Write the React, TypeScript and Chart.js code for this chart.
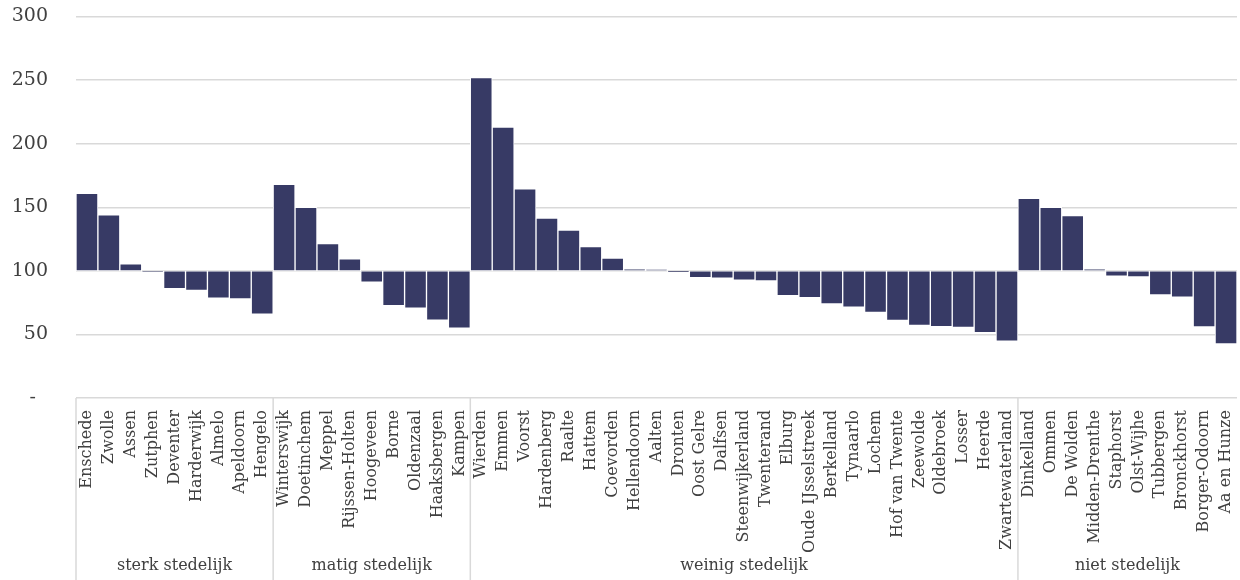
import React, { useEffect, useRef } from "react";
import { Chart, registerables } from "chart.js";

Chart.register(...registerables);

const categories: string[] = [
  "Enschede", "Zwolle", "Assen", "Zutphen", "Deventer", "Harderwijk", "Almelo", "Apeldoorn", "Hengelo",
  "Winterswijk", "Doetinchem", "Meppel", "Rijssen-Holten", "Hoogeveen", "Borne", "Oldenzaal", "Haaksbergen", "Kampen",
  "Wierden", "Emmen", "Voorst", "Hardenberg", "Raalte", "Hattem", "Coevorden", "Hellendoorn", "Aalten", "Dronten",
  "Oost Gelre", "Dalfsen", "Steenwijkerland", "Twenterand", "Elburg", "Oude IJsselstreek", "Berkelland", "Tynaarlo",
  "Lochem", "Hof van Twente", "Zeewolde", "Oldebroek", "Losser", "Heerde", "Zwartewaterland",
  "Dinkelland", "Ommen", "De Wolden", "Midden-Drenthe", "Staphorst", "Olst-Wijhe", "Tubbergen", "Bronckhorst",
  "Borger-Odoorn", "Aa en Hunze",
];

const values: number[] = [
  161, 144, 105.5, 99, 86, 84.5, 78.5, 78, 66,
  168, 150, 121.5, 109.5, 91, 72.7, 70.7, 61.3, 55,
  252, 213, 164.5, 141.5, 132, 119, 110, 101.5, 101.3, 99.2,
  94.7, 94.2, 92.7, 92.1, 80.4, 78.8, 74, 71.5,
  67.2, 61, 57, 56, 55.5, 51.3, 44.7,
  157, 150, 143.5, 101.5, 95.8, 95.3, 81, 79.3,
  55.8, 42.6,
];

const groupNames: string[] = ["sterk stedelijk", "matig stedelijk", "weinig stedelijk", "niet stedelijk"];
const groupSizes: number[] = [9, 9, 25, 10];

const baseValue = 100;
const yTicks: number[] = [0, 50, 100, 150, 200, 250, 300];

const FONT = "'DejaVu Serif', serif";
const TEXT = "#404040";
const GRID = "#d9d9d9";
const BAR = "#373a65";

const groupPlugin = {
  id: "groupPlugin",
  afterDraw(chart: any) {
    const ctx = chart.ctx;
    const xs = chart.scales.x;
    const area = chart.chartArea;
    const step = xs.getPixelForValue(1) - xs.getPixelForValue(0);
    ctx.save();
    ctx.strokeStyle = GRID;
    ctx.lineWidth = 1.5;
    let start = 0;
    groupSizes.forEach((size, i) => {
      const left = xs.getPixelForValue(start) - step / 2;
      const right = xs.getPixelForValue(start + size - 1) + step / 2;
      ctx.beginPath();
      ctx.moveTo(left, area.bottom);
      ctx.lineTo(left, chart.height);
      ctx.stroke();
      ctx.fillStyle = TEXT;
      ctx.font = `16px ${FONT}`;
      ctx.textAlign = "center";
      ctx.textBaseline = "middle";
      ctx.fillText(groupNames[i], (left + right) / 2, 566);
      start += size;
    });
    ctx.restore();
  },
};

export default function App() {
  const ref = useRef<HTMLCanvasElement | null>(null);
  useEffect(() => {
    if (!ref.current) return;
    const chart = new Chart(ref.current, {
      type: "bar",
      data: {
        labels: categories,
        datasets: [
          {
            data: values.map((v) => [baseValue, v]) as any,
            backgroundColor: BAR,
            borderColor: "#ffffff",
            borderWidth: 1,
            borderSkipped: false,
            barPercentage: 1,
            categoryPercentage: 1,
          },
        ],
      },
      options: {
        animation: false,
        responsive: false,
        maintainAspectRatio: false,
        layout: { padding: { top: 16.5, right: 3, left: 0, bottom: 0 } },
        plugins: { legend: { display: false }, tooltip: { enabled: false } },
        scales: {
          x: {
            grid: { display: false },
            border: { display: false },
            ticks: {
              autoSkip: false,
              maxRotation: 90,
              minRotation: 90,
              padding: 4,
              color: TEXT,
              font: { family: FONT, size: 16 },
            },
            afterFit: (s: any) => {
              s.height = 182;
              s.paddingLeft = 0;
              s.paddingRight = 0;
            },
          },
          y: {
            min: 0,
            max: 300,
            afterBuildTicks: (s: any) => {
              s.ticks = yTicks.map((v) => ({ value: v }));
            },
            grid: { color: GRID, lineWidth: 1.5, drawTicks: false },
            border: { display: false },
            ticks: {
              padding: 28,
              color: TEXT,
              font: { family: FONT, size: 19 },
              callback: (v: any) => (Number(v) === 0 ? "-  " : String(v)),
            },
            afterFit: (s: any) => {
              s.width = 76;
              s.paddingTop = 0;
              s.paddingBottom = 0;
            },
          },
        },
      },
      plugins: [groupPlugin],
    });
    return () => chart.destroy();
  }, []);
  return (
    <div style={{ position: "fixed", left: 0, top: 0, width: 1240, height: 580, background: "#fff" }}>
      <canvas ref={ref} width={1240} height={580} style={{ width: 1240, height: 580 }} />
    </div>
  );
}
